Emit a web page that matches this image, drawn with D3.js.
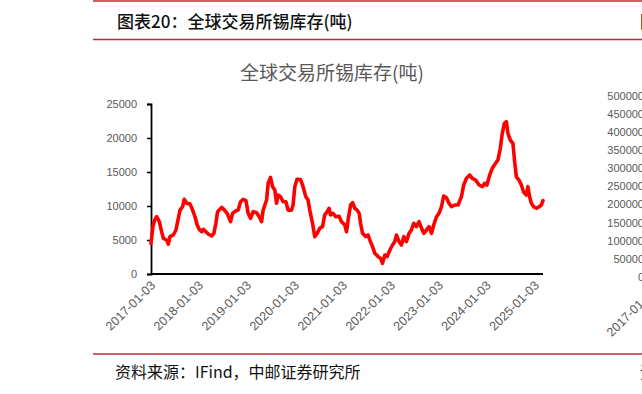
<!DOCTYPE html>
<html>
<head>
<meta charset="utf-8">
<script src="https://cdn.jsdelivr.net/npm/d3@7"></script>
<style>
  body { margin: 0; background: #fff; }
  svg { display: block; }
</style>
</head>
<body>
<svg width="642" height="394"></svg>
<script>
// global exchange tin stocks (tonnes)
const dates = [
  "2017-01-03","2017-01-18","2017-01-30","2017-02-15","2017-03-07","2017-03-25","2017-04-07","2017-05-02",
  "2017-05-15","2017-05-28","2017-06-22","2017-07-12","2017-07-30","2017-08-12","2017-09-01","2017-09-13",
  "2017-10-02","2017-10-27","2017-11-16","2017-12-04","2017-12-21","2018-01-05","2018-01-24","2018-02-05",
  "2018-02-25","2018-03-15","2018-04-10","2018-04-27","2018-05-12","2018-05-25","2018-06-12","2018-06-25",
  "2018-07-12","2018-08-06","2018-09-01","2018-09-16","2018-10-12","2018-10-29","2018-11-16","2018-12-06",
  "2018-12-27","2019-01-13","2019-01-31","2019-02-20","2019-03-18","2019-04-07","2019-04-25","2019-05-07",
  "2019-06-02","2019-06-14","2019-07-02","2019-07-18","2019-08-04","2019-08-17","2019-08-29","2019-09-16",
  "2019-10-06","2019-10-27","2019-11-13","2019-12-09","2019-12-21","2020-01-03","2020-01-20","2020-02-15",
  "2020-03-06","2020-03-27","2020-04-13","2020-04-26","2020-05-17","2020-06-03","2020-06-21","2020-07-11",
  "2020-08-01","2020-08-18","2020-09-05","2020-09-20","2020-10-01","2020-10-20","2020-11-10","2020-12-05",
  "2020-12-23","2021-01-18","2021-01-31","2021-02-12","2021-03-03","2021-03-18","2021-04-04","2021-04-22",
  "2021-05-07","2021-05-18","2021-06-02","2021-06-27","2021-07-14","2021-07-27","2021-08-17","2021-09-03",
  "2021-09-29","2021-10-17","2021-11-01","2021-11-19","2021-12-06","2021-12-27","2022-01-16","2022-02-02",
  "2022-02-15","2022-03-07","2022-03-25","2022-04-12","2022-05-02","2022-05-22","2022-06-09","2022-06-27",
  "2022-07-17","2022-08-06","2022-08-25","2022-09-11","2022-10-02","2022-10-21","2022-11-09","2022-11-26",
  "2022-12-17","2023-01-05","2023-01-24","2023-02-10","2023-03-03","2023-03-22","2023-04-10","2023-05-05",
  "2023-05-30","2023-06-25","2023-07-12","2023-08-02","2023-08-27","2023-09-16","2023-10-11","2023-11-06",
  "2023-12-01","2023-12-19","2024-01-05","2024-01-26","2024-02-15","2024-03-11","2024-03-29","2024-04-16",
  "2024-05-01","2024-05-17","2024-06-01","2024-06-13","2024-07-01","2024-07-21","2024-08-03","2024-08-16",
  "2024-09-05","2024-09-23","2024-10-10","2024-10-31","2024-11-12","2024-11-25","2024-12-08","2024-12-26",
  "2025-01-16","2025-02-05","2025-02-23","2025-03-07"
];
const stock = [
  4500, 7000, 7900, 8450, 7700, 6220, 5250, 5000,
  4400, 5490, 5740, 6470, 8190, 9400, 9900, 10980,
  10400, 10300, 9400, 8420, 7200, 6570, 6220, 6570,
  6220, 5880, 5590, 5980, 7450, 9160, 9510, 9800,
  9500, 8920, 7700, 8920, 9300, 9400, 10630, 10980,
  10800, 8920, 8190, 9160, 9000, 8420, 7700, 9400,
  10880, 13330, 14220, 12840, 12350, 10400, 11620, 11370,
  10630, 10630, 9400, 9400, 10150, 12840, 13920, 13900,
  12840, 11370, 10880, 9400, 7450, 5490, 5980, 6720,
  6960, 8680, 9160, 9660, 8680, 8920, 8420, 8500,
  7700, 7200, 6220, 7940, 10150, 10490, 9660, 9400,
  8920, 7450, 5980, 5490, 5740, 5000, 4020, 3040,
  2550, 2300, 1570, 2790, 2550, 3530, 4260, 4750,
  5740, 4750, 4260, 5490, 4750, 5980, 6470, 7450,
  6960, 7700, 6720, 5980, 6470, 6960, 5980, 7200,
  8420, 8920, 9900, 11470, 11200, 10400, 9900, 10150,
  10150, 11370, 13090, 14070, 14560, 14070, 13820, 13090,
  12840, 13330, 13090, 14560, 15540, 16280, 16780, 18490,
  20690, 22160, 22400, 20690, 19700, 19210, 16520, 14300,
  13820, 13090, 12100, 11620, 12840, 11370, 10400, 9900,
  9660, 9900, 10150, 10780
];
const yTicks = [0, 5000, 10000, 15000, 20000, 25000];
const xTickLabels = ["2017-01-03","2018-01-03","2019-01-03","2020-01-03","2021-01-03",
  "2022-01-03","2023-01-03","2024-01-03","2025-01-03"];
// neighbouring chart on the page, only its axis edge shows
const rightTicks = [0, 50000, 100000, 150000, 200000, 250000, 300000, 350000, 400000, 450000, 500000];

const svg = d3.select("svg");
const parse = d3.timeParse("%Y-%m-%d");
const cjk = "'Noto Sans CJK SC', sans-serif";
const num = "'Liberation Sans', Arial, sans-serif";
const red = "#c8262c";

// page frame: red rules, caption, source
svg.append("line").attr("x1", 93).attr("x2", 642).attr("y1", 1).attr("y2", 1)
  .attr("stroke", red).attr("stroke-width", 1.6);
svg.append("line").attr("x1", 93).attr("x2", 642).attr("y1", 39.5).attr("y2", 39.5)
  .attr("stroke", red).attr("stroke-width", 1.6);
svg.append("line").attr("x1", 93).attr("x2", 642).attr("y1", 354).attr("y2", 354)
  .attr("stroke", red).attr("stroke-width", 1.6);

svg.append("text").attr("x", 117).attr("y", 28)
  .style("font-family", cjk).style("font-size", "17px").style("font-weight", 500).attr("fill", "#111")
  .text("图表20：全球交易所锡库存(吨)");
svg.append("text").attr("x", 115).attr("y", 378)
  .style("font-family", cjk).style("font-size", "16px").attr("fill", "#111")
  .text("资料来源：IFind，中邮证券研究所");
// next panel's caption and source, cut by the page edge
svg.append("text").attr("x", 640).attr("y", 28)
  .style("font-family", cjk).style("font-size", "17px").style("font-weight", 500).attr("fill", "#111")
  .text("图表21");
svg.append("text").attr("x", 640).attr("y", 378)
  .style("font-family", cjk).style("font-size", "16px").attr("fill", "#111")
  .text("资料来源");

// chart title
svg.append("text").attr("x", 332).attr("y", 80).attr("text-anchor", "middle")
  .style("font-family", cjk).style("font-size", "19px").attr("fill", "#595959")
  .text("全球交易所锡库存(吨)");

// scales
let x = d3.scaleTime()
  .domain([parse(dates[0]), parse(dates[dates.length - 1])])
  .range([151, 543]);
let y = d3.scaleLinear().domain([0, 25000]).range([274, 104]);

// y axis
let yAxis = svg.append("g").attr("transform", "translate(151,0)")
  .call(d3.axisLeft(y).tickValues(yTicks).tickSize(4).tickPadding(10).tickFormat(d3.format("d")));
yAxis.select(".domain").attr("stroke", "#000").attr("stroke-width", 1.8);
yAxis.selectAll(".tick line").attr("stroke", "#000").attr("stroke-width", 1.5);
yAxis.selectAll(".tick text").attr("fill", "#595959")
  .style("font-family", num).style("font-size", "11px");

// line
let line = d3.line()
  .x((d, i) => x(parse(dates[i])))
  .y(d => y(d));
svg.append("path").datum(stock)
  .attr("d", line)
  .attr("fill", "none")
  .attr("stroke", "#ff0000")
  .attr("stroke-width", 3.6)
  .attr("stroke-linejoin", "round")
  .attr("stroke-linecap", "round");

// x axis
svg.append("line").attr("x1", 151).attr("x2", 543).attr("y1", y(0)).attr("y2", y(0))
  .attr("stroke", "#000").attr("stroke-width", 2);
svg.append("g").selectAll("text").data(xTickLabels).join("text")
  .attr("transform", d => "translate(" + (x(parse(d)) + 2) + "," + (y(0) + 9) + ") rotate(-45)")
  .attr("text-anchor", "end")
  .attr("dy", "0.35em")
  .attr("fill", "#595959")
  .style("font-family", num).style("font-size", "12.5px")
  .text(d => d);

// edge of the next chart's axis
let yRight = d3.scaleLinear().domain([0, 500000]).range([277, 96]);
svg.append("g").selectAll("text").data(rightTicks).join("text")
  .attr("x", 644).attr("y", d => yRight(d)).attr("dy", "0.35em")
  .attr("text-anchor", "end").attr("fill", "#595959")
  .style("font-family", num).style("font-size", "11px")
  .text(d => d);
svg.append("text")
  .attr("transform", "translate(654," + (yRight(0) + 12) + ") rotate(-45)")
  .attr("text-anchor", "end").attr("dy", "0.35em").attr("fill", "#595959")
  .style("font-family", num).style("font-size", "12.5px")
  .text("2017-01-03");
</script>
</body>
</html>
